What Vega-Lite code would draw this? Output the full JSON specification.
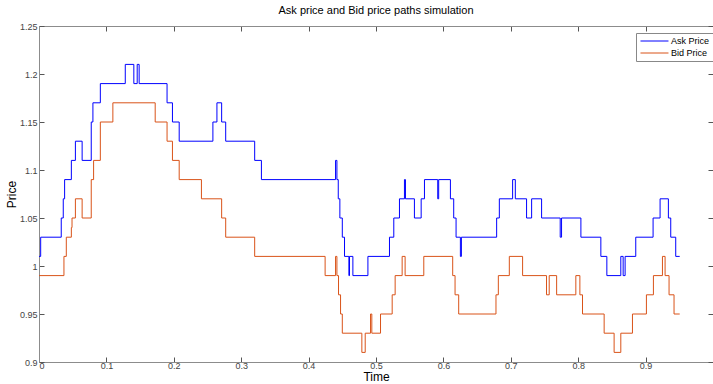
{
  "$schema": "https://vega.github.io/schema/vega-lite/v6.json",
  "width": 674,
  "height": 336,
  "autosize": {"type": "none"},
  "padding": {"left": 39, "top": 26, "right": 0, "bottom": 22},
  "background": "white",
  "config": {
    "font": "Liberation Sans",
    "view": {"stroke": null},
    "axis": {"grid": false, "domainColor": "#8c8c8c", "tickColor": "#555555", "labelColor": "#444444", "labelFontSize": 9, "labelFont": "Liberation Sans", "titleFont": "Liberation Sans", "titleColor": "#000000", "titleFontWeight": "normal"}
  },
  "title": {"text": "Ask price and Bid price paths simulation", "fontSize": 11, "fontWeight": "normal", "font": "Liberation Sans", "color": "#000000", "anchor": "middle", "offset": 6},
  "data": {"values": [
    {"series": "Ask Price", "t": 0, "price": 1.01},
    {"series": "Ask Price", "t": 0.0025, "price": 1.03},
    {"series": "Ask Price", "t": 0.033, "price": 1.05},
    {"series": "Ask Price", "t": 0.036, "price": 1.07},
    {"series": "Ask Price", "t": 0.038, "price": 1.09},
    {"series": "Ask Price", "t": 0.048, "price": 1.11},
    {"series": "Ask Price", "t": 0.054, "price": 1.13},
    {"series": "Ask Price", "t": 0.064, "price": 1.11},
    {"series": "Ask Price", "t": 0.0775, "price": 1.15},
    {"series": "Ask Price", "t": 0.080, "price": 1.17},
    {"series": "Ask Price", "t": 0.091, "price": 1.19},
    {"series": "Ask Price", "t": 0.128, "price": 1.21},
    {"series": "Ask Price", "t": 0.1407, "price": 1.19},
    {"series": "Ask Price", "t": 0.1457, "price": 1.21},
    {"series": "Ask Price", "t": 0.1486, "price": 1.19},
    {"series": "Ask Price", "t": 0.190, "price": 1.17},
    {"series": "Ask Price", "t": 0.198, "price": 1.15},
    {"series": "Ask Price", "t": 0.208, "price": 1.13},
    {"series": "Ask Price", "t": 0.258, "price": 1.15},
    {"series": "Ask Price", "t": 0.264, "price": 1.17},
    {"series": "Ask Price", "t": 0.271, "price": 1.15},
    {"series": "Ask Price", "t": 0.277, "price": 1.13},
    {"series": "Ask Price", "t": 0.320, "price": 1.11},
    {"series": "Ask Price", "t": 0.330, "price": 1.09},
    {"series": "Ask Price", "t": 0.440, "price": 1.11},
    {"series": "Ask Price", "t": 0.442, "price": 1.09},
    {"series": "Ask Price", "t": 0.444, "price": 1.07},
    {"series": "Ask Price", "t": 0.4464, "price": 1.05},
    {"series": "Ask Price", "t": 0.450, "price": 1.03},
    {"series": "Ask Price", "t": 0.4533, "price": 1.01},
    {"series": "Ask Price", "t": 0.4598, "price": 0.99},
    {"series": "Ask Price", "t": 0.4607, "price": 1.01},
    {"series": "Ask Price", "t": 0.4657, "price": 0.99},
    {"series": "Ask Price", "t": 0.488, "price": 1.01},
    {"series": "Ask Price", "t": 0.520, "price": 1.03},
    {"series": "Ask Price", "t": 0.5264, "price": 1.05},
    {"series": "Ask Price", "t": 0.5348, "price": 1.07},
    {"series": "Ask Price", "t": 0.5422, "price": 1.09},
    {"series": "Ask Price", "t": 0.5437, "price": 1.07},
    {"series": "Ask Price", "t": 0.557, "price": 1.05},
    {"series": "Ask Price", "t": 0.567, "price": 1.07},
    {"series": "Ask Price", "t": 0.5719, "price": 1.09},
    {"series": "Ask Price", "t": 0.5916, "price": 1.07},
    {"series": "Ask Price", "t": 0.593, "price": 1.09},
    {"series": "Ask Price", "t": 0.6104, "price": 1.07},
    {"series": "Ask Price", "t": 0.6153, "price": 1.05},
    {"series": "Ask Price", "t": 0.6188, "price": 1.03},
    {"series": "Ask Price", "t": 0.6252, "price": 1.01},
    {"series": "Ask Price", "t": 0.6267, "price": 1.03},
    {"series": "Ask Price", "t": 0.679, "price": 1.05},
    {"series": "Ask Price", "t": 0.683, "price": 1.07},
    {"series": "Ask Price", "t": 0.7027, "price": 1.09},
    {"series": "Ask Price", "t": 0.7067, "price": 1.07},
    {"series": "Ask Price", "t": 0.7234, "price": 1.05},
    {"series": "Ask Price", "t": 0.7309, "price": 1.07},
    {"series": "Ask Price", "t": 0.7457, "price": 1.05},
    {"series": "Ask Price", "t": 0.7733, "price": 1.03},
    {"series": "Ask Price", "t": 0.7753, "price": 1.05},
    {"series": "Ask Price", "t": 0.804, "price": 1.03},
    {"series": "Ask Price", "t": 0.8336, "price": 1.01},
    {"series": "Ask Price", "t": 0.8425, "price": 0.99},
    {"series": "Ask Price", "t": 0.8632, "price": 1.01},
    {"series": "Ask Price", "t": 0.8667, "price": 0.99},
    {"series": "Ask Price", "t": 0.8696, "price": 1.01},
    {"series": "Ask Price", "t": 0.8854, "price": 1.03},
    {"series": "Ask Price", "t": 0.9111, "price": 1.05},
    {"series": "Ask Price", "t": 0.9215, "price": 1.07},
    {"series": "Ask Price", "t": 0.9338, "price": 1.05},
    {"series": "Ask Price", "t": 0.9373, "price": 1.03},
    {"series": "Ask Price", "t": 0.9447, "price": 1.01},
    {"series": "Ask Price", "t": 0.9506, "price": 1.01},
    {"series": "Bid Price", "t": 0, "price": 0.99},
    {"series": "Bid Price", "t": 0.037, "price": 1.01},
    {"series": "Bid Price", "t": 0.0405, "price": 1.03},
    {"series": "Bid Price", "t": 0.048, "price": 1.04},
    {"series": "Bid Price", "t": 0.049, "price": 1.05},
    {"series": "Bid Price", "t": 0.054, "price": 1.07},
    {"series": "Bid Price", "t": 0.064, "price": 1.05},
    {"series": "Bid Price", "t": 0.0775, "price": 1.09},
    {"series": "Bid Price", "t": 0.081, "price": 1.11},
    {"series": "Bid Price", "t": 0.091, "price": 1.15},
    {"series": "Bid Price", "t": 0.1096, "price": 1.17},
    {"series": "Bid Price", "t": 0.1724, "price": 1.15},
    {"series": "Bid Price", "t": 0.190, "price": 1.13},
    {"series": "Bid Price", "t": 0.198, "price": 1.11},
    {"series": "Bid Price", "t": 0.208, "price": 1.09},
    {"series": "Bid Price", "t": 0.241, "price": 1.07},
    {"series": "Bid Price", "t": 0.271, "price": 1.05},
    {"series": "Bid Price", "t": 0.277, "price": 1.03},
    {"series": "Bid Price", "t": 0.320, "price": 1.01},
    {"series": "Bid Price", "t": 0.4245, "price": 0.99},
    {"series": "Bid Price", "t": 0.440, "price": 1.01},
    {"series": "Bid Price", "t": 0.442, "price": 0.99},
    {"series": "Bid Price", "t": 0.4444, "price": 0.97},
    {"series": "Bid Price", "t": 0.4474, "price": 0.95},
    {"series": "Bid Price", "t": 0.450, "price": 0.93},
    {"series": "Bid Price", "t": 0.479, "price": 0.91},
    {"series": "Bid Price", "t": 0.484, "price": 0.93},
    {"series": "Bid Price", "t": 0.4919, "price": 0.95},
    {"series": "Bid Price", "t": 0.4938, "price": 0.93},
    {"series": "Bid Price", "t": 0.5067, "price": 0.95},
    {"series": "Bid Price", "t": 0.524, "price": 0.97},
    {"series": "Bid Price", "t": 0.5284, "price": 0.99},
    {"series": "Bid Price", "t": 0.5388, "price": 1.01},
    {"series": "Bid Price", "t": 0.5432, "price": 0.99},
    {"series": "Bid Price", "t": 0.5709, "price": 1.01},
    {"series": "Bid Price", "t": 0.6138, "price": 0.99},
    {"series": "Bid Price", "t": 0.6173, "price": 0.97},
    {"series": "Bid Price", "t": 0.6227, "price": 0.95},
    {"series": "Bid Price", "t": 0.678, "price": 0.97},
    {"series": "Bid Price", "t": 0.6815, "price": 0.99},
    {"series": "Bid Price", "t": 0.6978, "price": 1.01},
    {"series": "Bid Price", "t": 0.7175, "price": 0.99},
    {"series": "Bid Price", "t": 0.753, "price": 0.97},
    {"series": "Bid Price", "t": 0.757, "price": 0.99},
    {"series": "Bid Price", "t": 0.768, "price": 0.97},
    {"series": "Bid Price", "t": 0.7965, "price": 0.99},
    {"series": "Bid Price", "t": 0.8025, "price": 0.97},
    {"series": "Bid Price", "t": 0.8064, "price": 0.95},
    {"series": "Bid Price", "t": 0.8385, "price": 0.93},
    {"series": "Bid Price", "t": 0.8533, "price": 0.91},
    {"series": "Bid Price", "t": 0.8632, "price": 0.93},
    {"series": "Bid Price", "t": 0.8805, "price": 0.95},
    {"series": "Bid Price", "t": 0.9012, "price": 0.97},
    {"series": "Bid Price", "t": 0.9116, "price": 0.99},
    {"series": "Bid Price", "t": 0.925, "price": 1.01},
    {"series": "Bid Price", "t": 0.9289, "price": 0.99},
    {"series": "Bid Price", "t": 0.9348, "price": 0.97},
    {"series": "Bid Price", "t": 0.9422, "price": 0.95},
    {"series": "Bid Price", "t": 0.9506, "price": 0.95}
  ]},
  "layer": [
    {
      "mark": {"type": "line", "interpolate": "step-after", "strokeWidth": 1},
      "encoding": {
        "x": {"field": "t", "type": "quantitative", "scale": {"domain": [0, 1], "nice": false, "zero": false},
              "axis": {"orient": "bottom", "values": [0, 0.1, 0.2, 0.3, 0.4, 0.5, 0.6, 0.7, 0.8, 0.9], "format": ".1~f", "tickSize": -5, "labelPadding": 4, "title": "Time", "titleFontSize": 12, "titlePadding": 1}},
        "y": {"field": "price", "type": "quantitative", "scale": {"domain": [0.9, 1.25], "nice": false, "zero": false},
              "axis": {"orient": "left", "values": [0.9, 0.95, 1, 1.05, 1.1, 1.15, 1.2, 1.25], "format": ".2~f", "tickSize": -5, "labelPadding": 7, "title": "Price", "titleFontSize": 12, "titlePadding": 1}},
        "color": {"field": "series", "type": "nominal",
                  "scale": {"domain": ["Ask Price", "Bid Price"], "range": ["#0000ff", "#d95319"]},
                  "legend": {"orient": "none", "legendX": 597, "legendY": 7, "title": null, "symbolType": "M-0.78,0H5.44", "symbolSize": 81, "symbolStrokeWidth": 1, "labelFontSize": 9, "labelColor": "#000000", "strokeColor": "#888888", "fillColor": "#ffffff", "padding": 3, "rowPadding": 2, "labelOffset": 22}}
      }
    },
    {
      "mark": {"type": "line", "interpolate": "step-after", "strokeOpacity": 0},
      "encoding": {
        "x": {"field": "t", "type": "quantitative", "axis": {"orient": "top", "values": [0, 0.1, 0.2, 0.3, 0.4, 0.5, 0.6, 0.7, 0.8, 0.9], "labels": false, "title": null, "tickSize": -5}},
        "y": {"field": "price", "type": "quantitative", "axis": {"orient": "right", "values": [0.9, 0.95, 1, 1.05, 1.1, 1.15, 1.2, 1.25], "labels": false, "title": null, "tickSize": -5}},
        "detail": {"field": "series"}
      }
    }
  ],
  "resolve": {"axis": {"x": "independent", "y": "independent"}}
}
